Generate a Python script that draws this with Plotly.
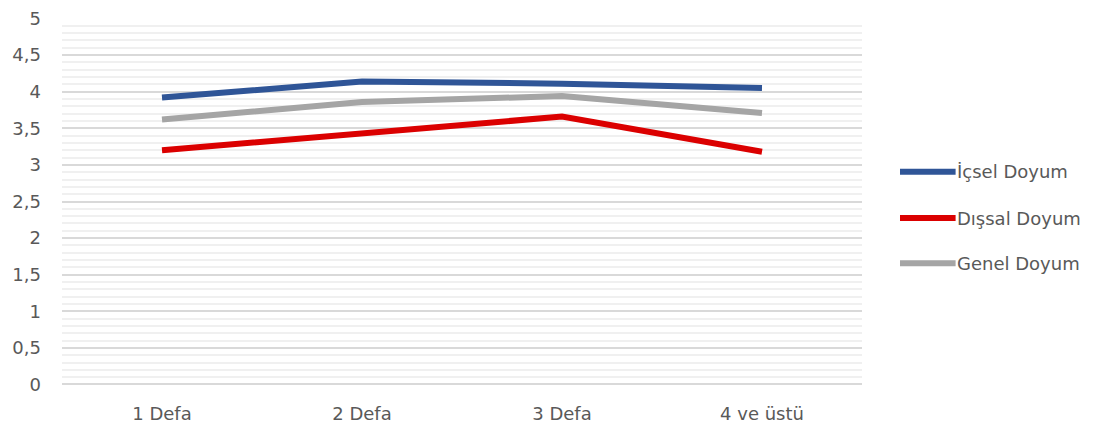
import plotly.graph_objects as go

categories = ["1 Defa", "2 Defa", "3 Defa", "4 ve üstü"]
icsel = [3.92, 4.14, 4.11, 4.05]
dissal = [3.20, 3.44, 3.66, 3.18]
genel = [3.62, 3.86, 3.94, 3.71]
series_names = ["İçsel Doyum", "Dışsal Doyum", "Genel Doyum"]
series_values = [icsel, dissal, genel]
colors = ["#2F5597", "#DB0000", "#A5A5A5"]
y_ticks = [0, 0.5, 1, 1.5, 2, 2.5, 3, 3.5, 4, 4.5, 5]
y_labels = ["0", "0,5", "1", "1,5", "2", "2,5", "3", "3,5", "4", "4,5", "5"]

FONT = "DejaVu Sans"
TXT = "#595959"
FS = 18

fig = go.Figure()
for name, vals, col in zip(series_names, series_values, colors):
    fig.add_trace(go.Scatter(
        x=categories, y=vals, mode="lines", name=name,
        line=dict(color=col, width=6), showlegend=False,
    ))

# manual legend (line + text) on the right
legend_y = [0.581, 0.455, 0.332]
for name, col, ly in zip(series_names, colors, legend_y):
    fig.add_shape(type="line", xref="paper", yref="paper",
                  x0=1.0475, x1=1.117, y0=ly, y1=ly,
                  line=dict(color=col, width=6))
    fig.add_annotation(xref="paper", yref="paper", x=1.116, y=ly,
                       text=name, showarrow=False, xanchor="left", yanchor="middle",
                       font=dict(family=FONT, size=FS, color=TXT))

fig.update_layout(
    width=1097, height=428,
    margin=dict(l=62, r=235, t=18, b=43),
    paper_bgcolor="white", plot_bgcolor="white",
    font=dict(family=FONT, size=FS, color=TXT),
    xaxis=dict(
        type="category", range=[-0.5, 3.5], showgrid=False, zeroline=False,
        showline=False, ticks="", ticklabelstandoff=16, automargin=False,
        tickfont=dict(family=FONT, size=FS, color=TXT),
    ),
    yaxis=dict(
        range=[-0.007, 5.007], tickvals=y_ticks, ticktext=y_labels, automargin=False,
        showgrid=True, gridcolor="#D9D9D9", gridwidth=1.5,
        zeroline=True, zerolinecolor="#D9D9D9", zerolinewidth=1.5,
        showline=False, ticks="", ticklabelstandoff=20,
        tickfont=dict(family=FONT, size=FS, color=TXT),
        minor=dict(dtick=0.1, showgrid=True, gridcolor="#F0F0F0", gridwidth=1.5),
    ),
)

fig.write_html("out.html", config={"displayModeBar": False},
               post_script="document.body.style.margin='0';")
